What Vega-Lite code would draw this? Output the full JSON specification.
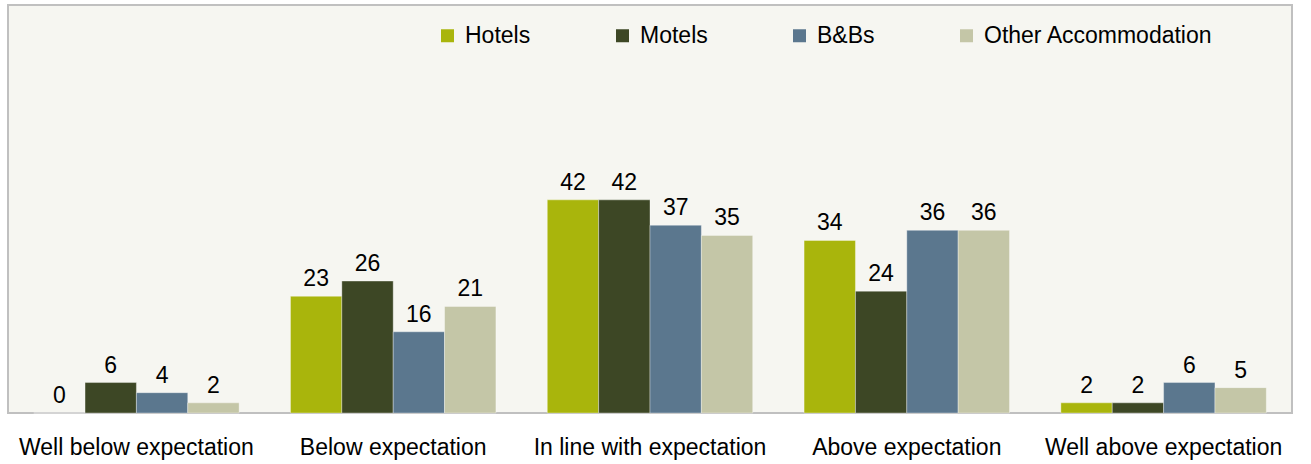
{
  "$schema": "https://vega.github.io/schema/vega-lite/v6.json",
  "width": 1284,
  "height": 408,
  "autosize": {"type": "none"},
  "padding": {"left": 8, "top": 5, "right": 19, "bottom": 51},
  "background": "#ffffff",
  "config": {
    "view": {"fill": "#f6f6f1", "stroke": "#c0c0c0", "strokeWidth": 2},
    "font": "Liberation Sans"
  },
  "data": {
    "values": [
      {"category": "Well below expectation", "type": "Hotels", "value": 0},
      {"category": "Well below expectation", "type": "Motels", "value": 6},
      {"category": "Well below expectation", "type": "B&Bs", "value": 4},
      {"category": "Well below expectation", "type": "Other Accommodation", "value": 2},
      {"category": "Below expectation", "type": "Hotels", "value": 23},
      {"category": "Below expectation", "type": "Motels", "value": 26},
      {"category": "Below expectation", "type": "B&Bs", "value": 16},
      {"category": "Below expectation", "type": "Other Accommodation", "value": 21},
      {"category": "In line with expectation", "type": "Hotels", "value": 42},
      {"category": "In line with expectation", "type": "Motels", "value": 42},
      {"category": "In line with expectation", "type": "B&Bs", "value": 37},
      {"category": "In line with expectation", "type": "Other Accommodation", "value": 35},
      {"category": "Above expectation", "type": "Hotels", "value": 34},
      {"category": "Above expectation", "type": "Motels", "value": 24},
      {"category": "Above expectation", "type": "B&Bs", "value": 36},
      {"category": "Above expectation", "type": "Other Accommodation", "value": 36},
      {"category": "Well above expectation", "type": "Hotels", "value": 2},
      {"category": "Well above expectation", "type": "Motels", "value": 2},
      {"category": "Well above expectation", "type": "B&Bs", "value": 6},
      {"category": "Well above expectation", "type": "Other Accommodation", "value": 5}
    ]
  },
  "encoding": {
    "x": {
      "field": "category",
      "type": "nominal",
      "sort": null,
      "scale": {"paddingInner": 0.2, "paddingOuter": 0.1},
      "axis": {
        "title": null,
        "labelAngle": 0,
        "labelFontSize": 23,
        "labelColor": "#000000",
        "labelPadding": 23,
        "ticks": false,
        "domain": false,
        "labelLimit": 400
      }
    },
    "xOffset": {
      "field": "type",
      "type": "nominal",
      "sort": ["Hotels", "Motels", "B&Bs", "Other Accommodation"],
      "scale": {"paddingInner": 0, "paddingOuter": 0}
    },
    "y": {
      "field": "value",
      "type": "quantitative",
      "scale": {"domain": [0, 80.4], "nice": false},
      "axis": null
    }
  },
  "layer": [
    {
      "mark": {"type": "bar", "stroke": "#ffffff", "strokeOpacity": 0.35, "strokeWidth": 1},
      "encoding": {
        "color": {
          "field": "type",
          "type": "nominal",
          "sort": ["Hotels", "Motels", "B&Bs", "Other Accommodation"],
          "scale": {
            "domain": ["Hotels", "Motels", "B&Bs", "Other Accommodation"],
            "range": ["#a9b50c", "#3d4725", "#5b778e", "#c4c6a7"]
          },
          "legend": {
            "title": null,
            "orient": "none",
            "direction": "horizontal",
            "legendX": 428,
            "legendY": 19,
            "symbolType": "square",
            "symbolSize": 169,
            "symbolStrokeWidth": 0,
            "labelFontSize": 23,
            "labelColor": "#000000",
            "labelOffset": 6,
            "columnPadding": 80,
            "labelLimit": 400
          }
        }
      }
    },
    {
      "mark": {"type": "text", "baseline": "bottom", "dy": -5, "fontSize": 23, "color": "#000000"},
      "encoding": {
        "text": {"field": "value", "type": "quantitative"}
      }
    }
  ]
}
